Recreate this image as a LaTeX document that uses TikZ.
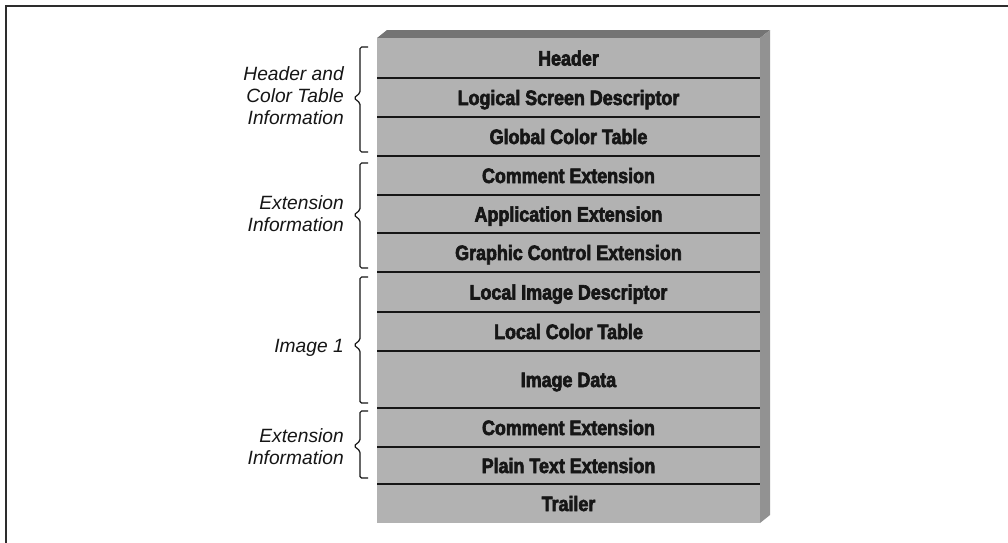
\documentclass[tikz,border=0pt]{standalone}
\usepackage{fontspec}
\setmainfont{Liberation Sans}
\newfontfamily\rowfont{Liberation Sans}[BoldFeatures={FakeBold=3,FakeStretch=0.86}]
\definecolor{frontface}{RGB}{178,178,178}
\definecolor{topface}{RGB}{116,116,116}
\definecolor{sideface}{RGB}{146,146,146}
\definecolor{ink}{RGB}{22,22,22}
\tikzset{
  rowtext/.style={anchor=base, inner sep=0pt, text=ink,
    font=\rowfont\bfseries\fontsize{15.6pt}{18pt}\selectfont},
  grouptext/.style={anchor=east, inner sep=0pt, align=right, text=ink,
    font=\itshape\fontsize{14.4pt}{16.5pt}\selectfont},
  rule/.style={draw=ink, line width=1.5pt},
  bracket/.style={draw=ink, line width=0.9pt, rounded corners=1.2pt},
}
\begin{document}
\begin{tikzpicture}[x=0.75pt,y=-0.75pt]
\useasboundingbox (0,0) rectangle (1008,543);
\fill[white] (0,0) rectangle (1008,543);
% page frame (top and left edges)
\draw[draw=ink!90, line width=1.7pt] (6,543) -- (6,6) -- (1008,6);

% the block stack, drawn as a slab
\fill[topface] (377,38) -- (387,30) -- (770,30) -- (760,38) -- cycle;
\fill[sideface] (760,38) -- (770,30) -- (770,515) -- (760,523) -- cycle;
\fill[frontface] (377,38) rectangle (760,523);
\foreach \yy in {78,117,156,195,233,272,312,351,408,447,484}
  \draw[rule] (377,\yy) -- (760,\yy);

% block names (baseline = row centre + half cap height)
\node[rowtext] (hdr) at (568.5,65.5)  {Header};
\node[rowtext] (lsd) at (568.5,105)   {Logical Screen Descriptor};
\node[rowtext] (gct) at (568.5,144)   {Global Color Table};
\node[rowtext] (ce1) at (568.5,183)   {Comment Extension};
\node[rowtext] (app) at (568.5,221.5) {Application Extension};
\node[rowtext] (gce) at (568.5,260)   {Graphic Control Extension};
\node[rowtext] (lid) at (568.5,299.5) {Local Image Descriptor};
\node[rowtext] (lct) at (568.5,339)   {Local Color Table};
\node[rowtext] (img) at (568.5,387)   {Image Data};
\node[rowtext] (ce2) at (568.5,435)   {Comment Extension};
\node[rowtext] (pte) at (568.5,473)   {Plain Text Extension};
\node[rowtext] (trl) at (568.5,511)   {Trailer};

% group brackets
\draw[bracket] (368,47) -- (360,47) -- (360,93) -- (354,98) -- (360,103) -- (360,152) -- (368,152);
\draw[bracket] (368,163) -- (360,163) -- (360,210) -- (354,215) -- (360,220) -- (360,268) -- (368,268);
\draw[bracket] (368,277) -- (360,277) -- (360,340) -- (354,345) -- (360,350) -- (360,403) -- (368,403);
\draw[bracket] (368,411) -- (360,411) -- (360,441) -- (354,446) -- (360,451) -- (360,478) -- (368,478);

% group names
\node[grouptext] (g1) at (344,96)  {Header and\\Color Table\\Information};
\node[grouptext] (g2) at (344,214) {Extension\\Information};
\node[grouptext] (g3) at (344,348) {Image 1};
\node[grouptext] (g4) at (344,447) {Extension\\Information};
\end{tikzpicture}
\end{document}
